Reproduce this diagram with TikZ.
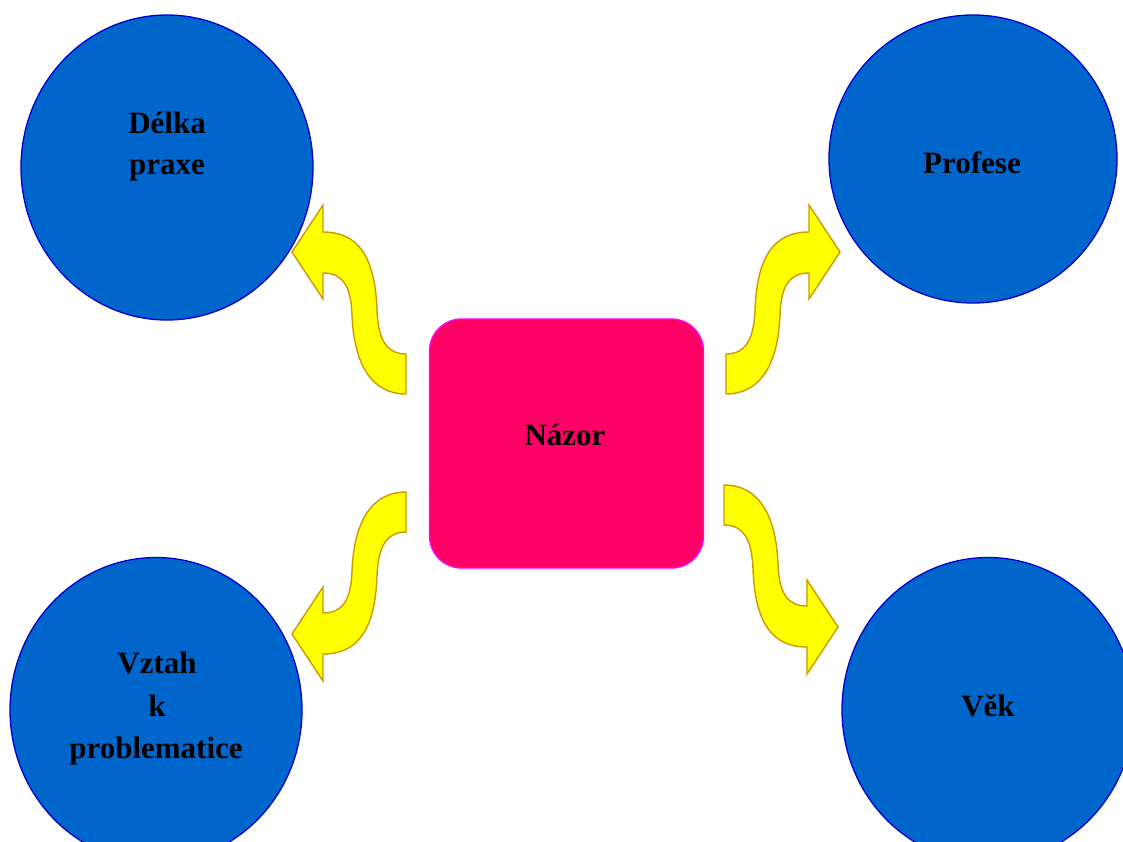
\documentclass[tikz,border=0pt]{standalone}
\usepackage{fontspec}
\setmainfont{Liberation Serif}
\usetikzlibrary{shapes.geometric}
\definecolor{bubblefill}{HTML}{0066CC}
\definecolor{bubbleline}{HTML}{0000CC}
\definecolor{hubfill}{HTML}{FF0066}
\definecolor{hubline}{HTML}{FF00FF}
\definecolor{arrowfill}{HTML}{FFFF00}
\definecolor{arrowline}{HTML}{CC9900}
\tikzset{
  bubble/.style={ellipse, draw=bubbleline, fill=bubblefill, line width=1.3pt, inner sep=0pt},
  hub/.style={rectangle, rounded corners=32pt, draw=hubline, fill=hubfill, line width=1.3pt,
    minimum width=274pt, minimum height=249pt, inner sep=0pt},
  lbl/.style={anchor=base, inner sep=0pt, font=\bfseries\fontsize{31}{40}\selectfont},
  bentarrow/.style={draw=arrowline, fill=arrowfill, line width=1.4pt, line join=miter}
}
% S-shaped block arrow pointing up and to the right
\newcommand\drawsarrow{%
  \path[bentarrow] (726,394) -- (726,354)
    .. controls (748,354) and (754,335) .. (755,310)
    .. controls (757,255) and (775,232) .. (809,232)
    -- (809,205) -- (840,252) -- (809,299) -- (809,273)
    .. controls (790,273) and (781,285) .. (780,315)
    .. controls (778,365) and (760,394) .. (726,394) -- cycle;%
}
\begin{document}
\begin{tikzpicture}[x=1pt, y=-1pt]
\useasboundingbox (0,0) rectangle (1123,841);
\clip (0,0) rectangle (1123,841);

% outer topics
\node[bubble, minimum width=292pt, minimum height=305pt] (dp) at (167,167.5) {};
\node[bubble, minimum width=288pt, minimum height=288pt] (pr) at (973,159) {};
\node[bubble, minimum width=292pt, minimum height=305pt] (vz) at (156,710) {};
\node[bubble, minimum width=292pt, minimum height=305pt] (vk) at (988,710) {};

% central topic
\node[hub] (nz) at (566.5,443.5) {};

% bent block arrows from the centre outwards
\drawsarrow
\begin{scope}[shift={(1132,0)}, xscale=-1]
  \drawsarrow
\end{scope}
\begin{scope}[shift={(1132,886)}, xscale=-1, yscale=-1]
  \drawsarrow
\end{scope}
\begin{scope}[shift={(-2,879)}, yscale=-1]
  \drawsarrow
\end{scope}

% labels
\node[lbl] (dpa) at (167,133) {Délka};
\node[lbl] (dpb) at (167,174) {praxe};
\node[lbl] (prl) at (972,173) {Profese};
\node[lbl] (nzl) at (565,445) {Názor};
\node[lbl] (vza) at (157,673) {Vztah};
\node[lbl] (vzb) at (157,716) {k};
\node[lbl] (vzc) at (156,758) {problematice};
\node[lbl] (vkl) at (988,716) {Věk};
\end{tikzpicture}
\end{document}
